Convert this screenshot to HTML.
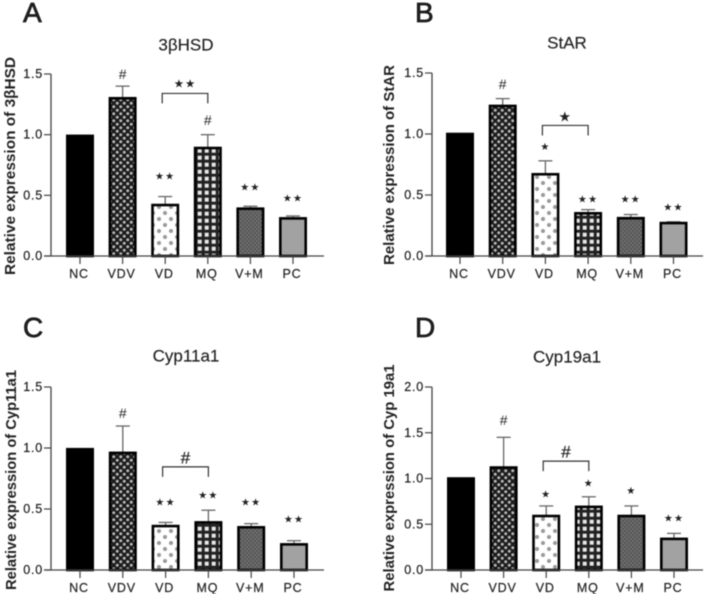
<!DOCTYPE html>
<html>
<head>
<meta charset="utf-8">
<style>
html,body{margin:0;padding:0;background:#fff;width:705px;height:594px;overflow:hidden}
svg{display:block;filter:blur(0.6px)}
text{font-family:"Liberation Sans",sans-serif;fill:#222}
</style>
</head>
<body>
<svg id="figure" width="705" height="594" viewBox="0 0 705 594" xmlns="http://www.w3.org/2000/svg">
<defs>
<pattern id="p-vdv" width="7" height="7" patternUnits="userSpaceOnUse"><rect width="7" height="7" fill="#1c1c1c"/><circle cx="1.75" cy="1.75" r="1.5" fill="#b8b8b8"/><circle cx="5.25" cy="5.25" r="1.5" fill="#b8b8b8"/></pattern>
<pattern id="p-vd" width="12" height="12" patternUnits="userSpaceOnUse"><rect width="12" height="12" fill="#fff"/><circle cx="3" cy="3" r="2" fill="#999"/><circle cx="9" cy="9" r="2" fill="#999"/></pattern>
<pattern id="p-mq" width="7" height="7" patternUnits="userSpaceOnUse"><rect width="7" height="7" fill="#222"/><rect x="1.7" y="1.7" width="4" height="4" fill="#e8e8e8"/></pattern>
<pattern id="p-vm" width="4" height="4" patternUnits="userSpaceOnUse"><rect width="4" height="4" fill="#5a5a5a"/><circle cx="1" cy="1" r="0.8" fill="#808080"/><circle cx="3" cy="3" r="0.8" fill="#808080"/></pattern>
</defs>
</svg>
<script>
var categories = ["NC", "VDV", "VD", "MQ", "V+M", "PC"];

var aValues = [0.99, 1.3, 0.42, 0.89, 0.39, 0.31];
var aErrors = [0, 0.1, 0.07, 0.11, 0.02, 0.02];
var aSigns = ["", "#", "★★", "#", "★★", "★★"];
var aSignLevels = [0, 1.5, 0.65, 1.12, 0.56, 0.47];
var aTicks = ["0.0", "0.5", "1.0", "1.5"];

var bValues = [1.0, 1.23, 0.67, 0.35, 0.31, 0.27];
var bErrors = [0, 0.06, 0.11, 0.03, 0.03, 0.01];
var bSigns = ["", "#", "★", "★★", "★★", "★★"];
var bSignLevels = [0, 1.41, 0.89, 0.46, 0.46, 0.395];
var bTicks = ["0.0", "0.5", "1.0", "1.5"];

var cValues = [0.99, 0.96, 0.36, 0.39, 0.35, 0.21];
var cErrors = [0, 0.22, 0.03, 0.1, 0.03, 0.03];
var cSigns = ["", "#", "★★", "★★", "★★", "★★"];
var cSignLevels = [0, 1.287, 0.55, 0.607, 0.55, 0.41];
var cTicks = ["0.0", "0.5", "1.0", "1.5"];

var dValues = [1.0, 1.12, 0.59, 0.69, 0.59, 0.34];
var dErrors = [0, 0.33, 0.11, 0.11, 0.11, 0.06];
var dSigns = ["", "#", "★", "★", "★", "★★"];
var dSignLevels = [0, 1.64, 0.82, 0.94, 0.86, 0.557];
var dTicks = ["0.0", "0.5", "1.0", "1.5", "2.0"];

var barFills = ["#000", "url(#p-vdv)", "url(#p-vd)", "url(#p-mq)", "url(#p-vm)", "#a2a2a2"];

var panels = [
  {letter:"A", title:"3βHSD", ylabel:"Relative expression of 3βHSD", values:aValues, errors:aErrors, signs:aSigns, levels:aSignLevels, ticks:aTicks, max:1.5, bracket:1.34, bracketSign:"★★",
   axisX:51, top:74, base:256, right:324, x0:80, step:42.6, lx:23, ly:22, tx:186, ty:45, ylx:11, yly:166, yll:218},
  {letter:"B", title:"StAR", ylabel:"Relative expression of StAR", values:bValues, errors:bErrors, signs:bSigns, levels:bSignLevels, ticks:bTicks, max:1.5, bracket:1.07, bracketSign:"★",
   axisX:432, top:73, base:256, right:703, x0:460, step:42.7, lx:415, ly:22, tx:567, ty:43, ylx:390, yly:165, yll:200},
  {letter:"C", title:"Cyp11a1", ylabel:"Relative expression of Cyp11a1", values:cValues, errors:cErrors, signs:cSigns, levels:cSignLevels, ticks:cTicks, max:1.5, bracket:0.845, bracketSign:"#",
   axisX:51, top:387, base:570, right:324, x0:80, step:42.8, lx:23, ly:337, tx:186, ty:356, ylx:12, yly:480, yll:220},
  {letter:"D", title:"Cyp19a1", ylabel:"Relative expression of Cyp 19a1", values:dValues, errors:dErrors, signs:dSigns, levels:dSignLevels, ticks:dTicks, max:2.0, bracket:1.19, bracketSign:"#",
   axisX:432, top:387, base:570, right:703, x0:461, step:42.6, lx:415, ly:337, tx:567, ty:357, ylx:390, yly:478, yll:227}
];

var NS = "http://www.w3.org/2000/svg";
var figure = document.getElementById("figure");

function make(parent, tag, attrs, content) {
  var node = document.createElementNS(NS, tag);
  for (var k in attrs) node.setAttribute(k, attrs[k]);
  if (content !== undefined) node.textContent = content;
  parent.appendChild(node);
  return node;
}

panels.forEach(function (p) {
  var yScale = function (v) { return p.base - (v / p.max) * (p.base - p.top); };
  var xScale = function (i) { return p.x0 + i * p.step; };
  var el;

  var group = make(figure, "g", {});
  
  

  el = make(group, "text", {x:p.lx, y:p.ly, "font-size":28, "font-weight":"400", stroke:"#111", "stroke-width":0.7}, p.letter);
  
  

  el = make(group, "text", {x:p.tx, y:p.ty, "font-size":17, "text-anchor":"middle", "dominant-baseline":"central", stroke:"#222", "stroke-width":0.15}, p.title);
  
  

  el = make(group, "text", {x:0, y:0, "font-size":14.5, "font-weight":"700", "text-anchor":"middle", "dominant-baseline":"central", textLength:p.yll, lengthAdjust:"spacingAndGlyphs", transform:"translate(" + p.ylx + "," + p.yly + ") rotate(-90)", fill:"#333"}, p.ylabel);
  
  

  categories.forEach(function (cat, i) {
    var x = xScale(i), v = p.values[i], e = p.errors[i];
    if (e > 0) {
      el = make(group, "line", {x1:x, x2:x, y1:yScale(v), y2:yScale(v + e), stroke:"#666", "stroke-width":1.3});
      
      
      el = make(group, "line", {x1:x - 7, x2:x + 7, y1:yScale(v + e), y2:yScale(v + e), stroke:"#666", "stroke-width":1.3});
      
      
    }
    el = make(group, "rect", {x:x - 12.7, y:yScale(v), width:25.4, height:p.base - yScale(v), fill:barFills[i], stroke:"#000", "stroke-width":2.6});
    
    

    if (p.signs[i]) {
      el = make(group, "text", {x:x, y:yScale(p.levels[i]), "font-size":p.signs[i] === "#" ? 14 : 10, "letter-spacing":p.signs[i] === "#" ? 0 : 1.2, "text-anchor":"middle", "dominant-baseline":"central", fill:"#444", "font-family":p.signs[i] === "#" ? "Liberation Sans" : "DejaVu Sans"}, p.signs[i]);
      
      
    }

    el = make(group, "line", {x1:x, x2:x, y1:p.base, y2:p.base + 8, stroke:"#444", "stroke-width":1.2});
    
    

    el = make(group, "text", {x:x - 1, y:p.base + 18, "font-size":12.5, "letter-spacing":0.8, "text-anchor":"middle", "dominant-baseline":"central", fill:"#222", stroke:"#222", "stroke-width":0.2}, cat);
    
    
  });

  el = make(group, "line", {x1:p.axisX, x2:p.axisX, y1:p.top, y2:p.base, stroke:"#444", "stroke-width":1.3});
  
  

  el = make(group, "line", {x1:p.axisX - 7, x2:p.right, y1:p.base, y2:p.base, stroke:"#444", "stroke-width":1.3});
  
  

  p.ticks.forEach(function (t) {
    var y = yScale(parseFloat(t));
    el = make(group, "line", {x1:p.axisX - 7, x2:p.axisX, y1:y, y2:y, stroke:"#444", "stroke-width":1.2});
    
    
    el = make(group, "text", {x:p.axisX - 8, y:y, "font-size":12.5, "letter-spacing":0.8, "text-anchor":"end", "dominant-baseline":"central", fill:"#222", stroke:"#222", "stroke-width":0.2}, t);
    
    
  });

  var by = yScale(p.bracket), bx1 = xScale(2) - 3, bx2 = xScale(3);
  el = make(group, "polyline", {points:bx1 + "," + (by + 10) + " " + bx1 + "," + by + " " + bx2 + "," + by + " " + bx2 + "," + (by + 10), fill:"none", stroke:"#333", "stroke-width":1.2});
  
  

  el = make(group, "text", {x:(bx1 + bx2) / 2, y:by - 9, "font-size":p.bracketSign === "#" ? 17 : (p.bracketSign === "★" ? 14 : 11.5), "letter-spacing":p.bracketSign === "#" ? 0 : 1, "text-anchor":"middle", "dominant-baseline":"central", fill:"#333", stroke:"#333", "stroke-width":p.bracketSign === "#" ? 0.3 : 0, "font-family":p.bracketSign === "#" ? "Liberation Sans" : "DejaVu Sans"}, p.bracketSign);
  
  
});
</script>
</body>
</html>
